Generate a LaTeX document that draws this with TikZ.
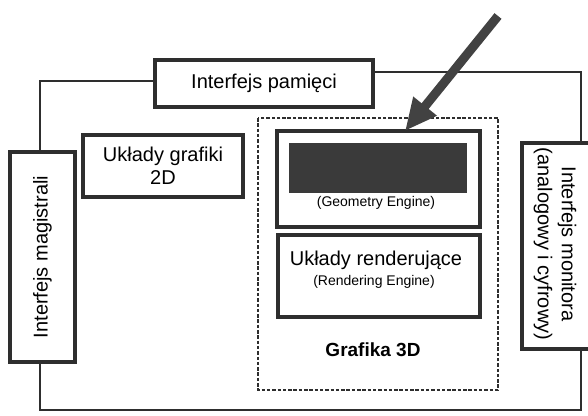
\documentclass[tikz,border=0pt]{standalone}
\usepackage{fontspec}
\setmainfont{Liberation Sans}
\usetikzlibrary{arrows.meta}
\definecolor{ink}{HTML}{2E2E2E}
\definecolor{fill3d}{HTML}{3A3A3A}
\definecolor{arrowgrey}{HTML}{424242}
\tikzset{
  blockbox/.style={draw=ink, line width=3.6pt, fill=white, inner sep=0pt, align=center},
  wire/.style={draw=ink, line width=1.5pt},
  groupframe/.style={draw=ink, line width=2.2pt, dash pattern=on 3.5pt off 1.8pt},
  bigtxt/.style={font=\fontsize{20}{23}\selectfont},
  smalltxt/.style={font=\fontsize{14}{16}\selectfont},
}
\begin{document}
\begin{tikzpicture}[x=1pt, y=-1pt]
  \useasboundingbox (0,0) rectangle (588,415);
  \clip (0,0) rectangle (588,415);

  % outer bus loop
  \coordinate (tl) at (40,81);
  \coordinate (tr) at (581,72);
  \coordinate (br) at (581,410);
  \coordinate (bl) at (40,410);

  % 3D graphics group
  \draw[groupframe] (258,118) rectangle (498,390);
  \node[bigtxt, font=\fontsize{19}{22}\selectfont\bfseries] (g3d) at (373,350) {Grafika 3D};

  % blocks
  \node[blockbox, minimum width=218pt, minimum height=47pt, bigtxt] (mem) at (264,83.5) {Interfejs pamięci};
  \node[blockbox, minimum width=160pt, minimum height=62pt, bigtxt] (g2d) at (163,166) {Układy grafiki\\2D};
  \node[blockbox, minimum width=65pt, minimum height=210pt] (bus) at (42.5,257) {};
  \node[bigtxt, rotate=90] (bustxt) at (bus.center) {Interfejs magistrali};
  \node[blockbox, minimum width=80pt, minimum height=206pt] (mon) at (562,246) {};
  \node[bigtxt, rotate=-90, align=center, font=\fontsize{20}{24}\selectfont] (montxt) at (555,244) {Interfejs monitora\\(analogowy i cyfrowy)};

  \node[blockbox, minimum width=203pt, minimum height=96pt] (geo) at (378.5,179) {};
  \fill[fill3d] (289,143) rectangle (467,193);
  \node[smalltxt] (geotxt) at (376,203) {(Geometry Engine)};

  \node[blockbox, minimum width=202pt, minimum height=82pt] (rend) at (379,276) {};
  \node[bigtxt] (rendtxt) at (376,260) {Układy renderujące};
  \node[smalltxt] (rendsub) at (374,282) {(Rendering Engine)};

  % connecting lines
  \draw[wire] (bus.north -| tl) -- (tl) -- (mem.west |- tl);
  \draw[wire] (mem.east |- 0,72) -- (tr) -- (mon.north -| tr);
  \draw[wire] (mon.south -| br) -- (br) -- (bl) -- (bus.south -| bl);

  % pointer arrow
  \coordinate (ptail) at (498,16);
  \coordinate (ptip) at (405,131);
  \draw[arrowgrey, line width=9pt, -{Triangle[length=32pt, width=28pt]}] (ptail) -- (ptip);
\end{tikzpicture}
\end{document}
